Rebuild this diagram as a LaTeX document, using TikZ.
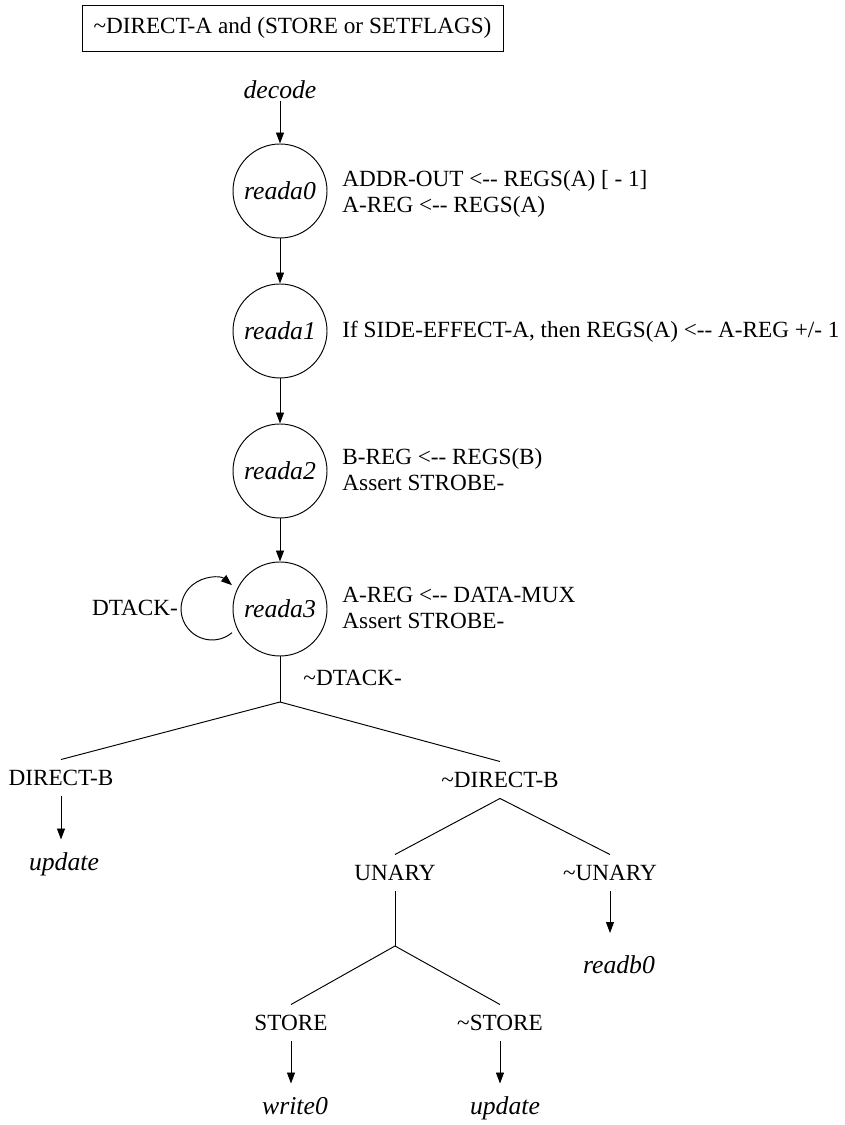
\documentclass[tikz,border=0pt]{standalone}
\usepackage{fontspec}
\setmainfont{Liberation Serif}
\usetikzlibrary{arrows.meta}
\begin{document}
\begin{tikzpicture}[
  x=1pt, y=1pt,
  line width=0.95pt,
  every node/.style={font=\fontsize{23.2}{26}\selectfont},
  arr/.style={-{Triangle[length=11pt,width=8pt]}},
  state/.style={draw, circle, minimum size=94pt, inner sep=0pt,
                font=\fontsize{25.7}{30}\selectfont\itshape},
  cond/.style={inner sep=0pt, minimum height=36pt},
  goal/.style={inner sep=0pt, minimum height=50pt, text height=18pt, text depth=6pt,
               font=\fontsize{25.7}{30}\selectfont\itshape},
  action/.style={anchor=west, inner sep=0pt, align=left},
]
\useasboundingbox (0,0) rectangle (844,1125);

% entry condition and incoming state
\node[draw, minimum width=421pt, minimum height=46pt, inner sep=0pt]
  (guard) at (292.5,1097) {\textasciitilde DIRECT-A and (STORE or SETFLAGS)};
\node[inner sep=1pt, font=\fontsize{25.7}{30}\selectfont\itshape]
  (decode) at (280,1035) {decode};

% read states
\node[state] (reada0) at (280,934) {reada0};
\node[state] (reada1) at (280,794) {reada1};
\node[state] (reada2) at (280,654) {reada2};
\node[state] (reada3) at (280,516) {reada3};

% register transfers of each state
\node[action] (act0) at (342,931) {ADDR-OUT <-{}- REGS(A) [ - 1]\\A-REG <-{}- REGS(A)};
\node[action] (act1) at (342,793) {If SIDE-EFFECT-A, then REGS(A) <-{}- A-REG +/- 1};
\node[action] (act2) at (342,655) {B-REG <-{}- REGS(B)\\Assert STROBE-};
\node[action] (act3) at (342,517) {A-REG <-{}- DATA-MUX\\Assert STROBE-};

\draw[arr] (decode.south) -- (reada0.north);
\draw[arr] (reada0.south) -- (reada1.north);
\draw[arr] (reada1.south) -- (reada2.north);
\draw[arr] (reada2.south) -- (reada3.north);

% wait loop on reada3
\node (dtack) at (135,517) {DTACK-};
\draw[arr] ([shift={(-48,-23.7)}]reada3.center)
  arc[start angle=-50, end angle=-310, radius=31pt];

% decision tree after reada3
\coordinate (j1) at (280,423);
\coordinate (j3) at (395,179);
\node[anchor=west, inner sep=0pt] (ndtack) at (303,447) {\textasciitilde DTACK-};

\node[cond] (dirb)   at (61,347)  {DIRECT-B};
\node[cond] (ndirb)  at (500,345) {\textasciitilde DIRECT-B};
\node[cond] (unary)  at (395,252) {UNARY};
\node[cond] (nunary) at (610,252) {\textasciitilde UNARY};
\node[cond] (store)  at (291,102) {STORE};
\node[cond] (nstore) at (500,102) {\textasciitilde STORE};

\node[goal] (upd1)   at (64,260)    {update};
\node[goal] (readb0) at (619,157.5) {readb0};
\node[goal] (write0) at (295,16)    {write0};
\node[goal] (upd2)   at (505,16)    {update};

\draw (reada3.south) -- (j1);
\draw (j1) -- (dirb.north);
\draw (j1) -- (ndirb.north);
\draw (ndirb.south) -- (unary.north);
\draw (ndirb.south) -- (nunary.north);
\draw (unary.south) -- (j3);
\draw (j3) -- (store.north);
\draw (j3) -- (nstore.north);

\draw[arr] (dirb.south) -- (dirb.south |- upd1.north);
\draw[arr] (nunary.south) -- ([yshift=9pt]nunary.south |- readb0.north);
\draw[arr] (store.south) -- (store.south |- write0.north);
\draw[arr] (nstore.south) -- (nstore.south |- upd2.north);
\end{tikzpicture}
\end{document}
